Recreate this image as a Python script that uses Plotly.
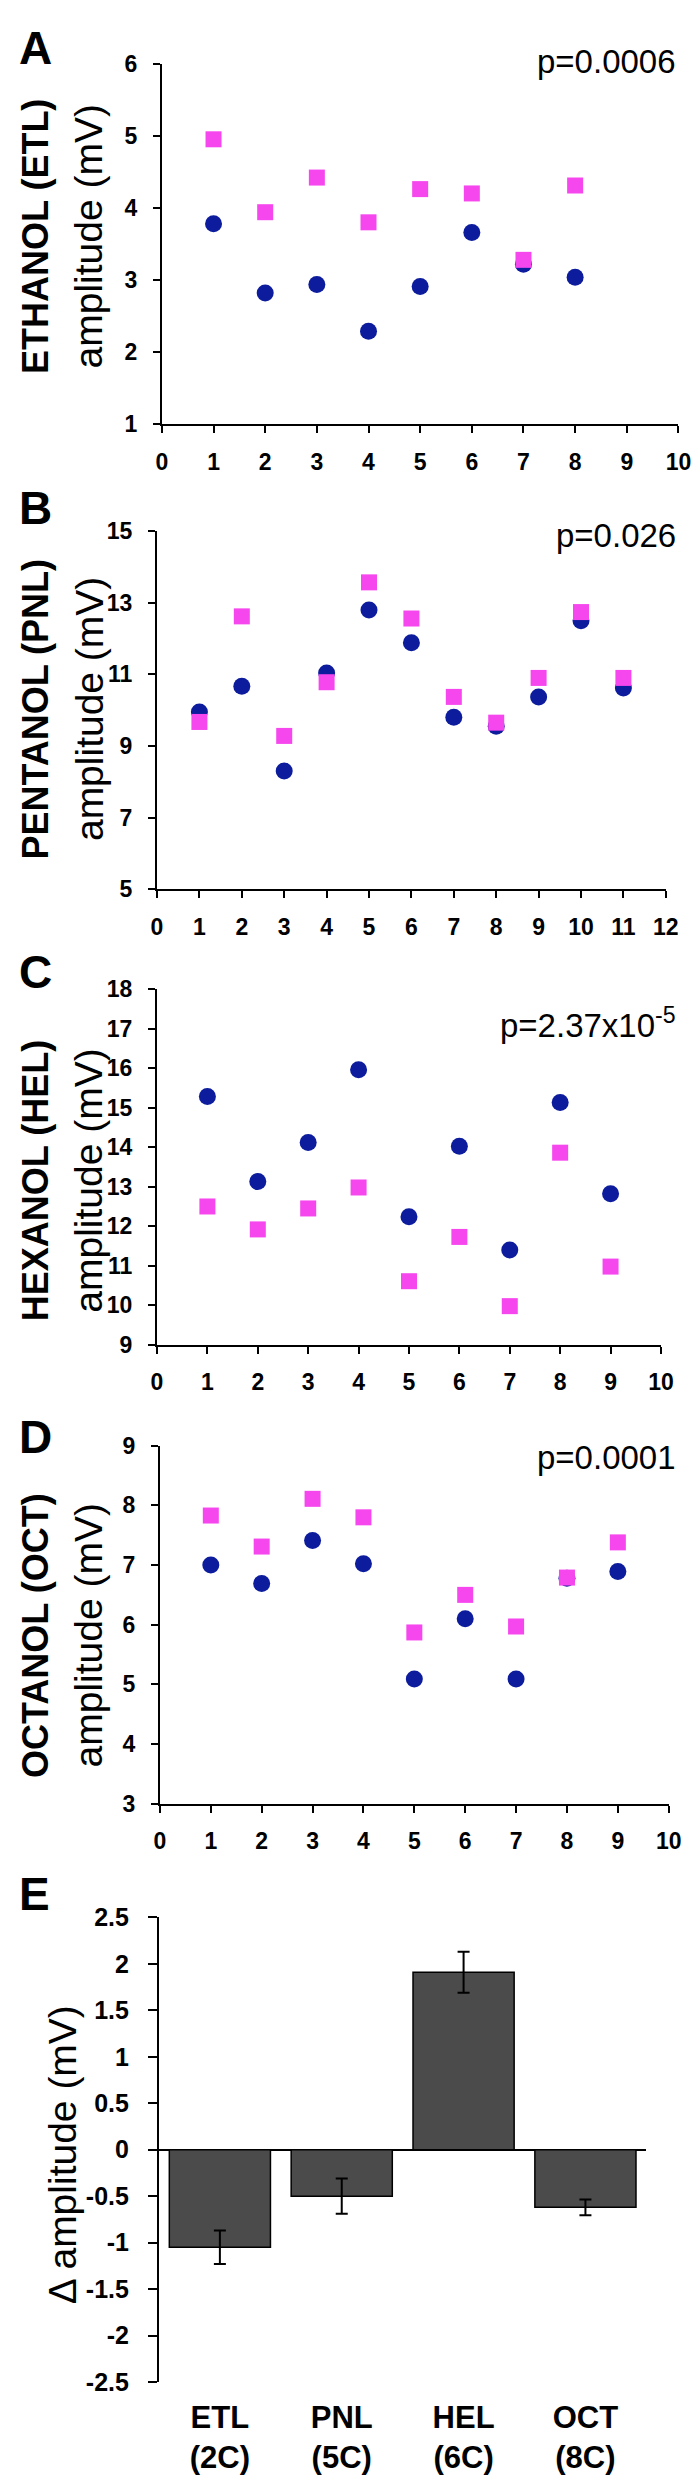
import plotly.graph_objects as go

W, H = 700, 2480

# ---------------- data ----------------
etl_x = [1, 2, 3, 4, 5, 6, 7, 8]
etl_before = [3.78, 2.82, 2.94, 2.29, 2.91, 3.66, 3.22, 3.04]
etl_after = [4.95, 3.94, 4.42, 3.80, 4.26, 4.20, 3.28, 4.31]

pnl_x = [1, 2, 3, 4, 5, 6, 7, 8, 9, 10, 11]
pnl_before = [9.95, 10.67, 8.30, 11.04, 12.80, 11.88, 9.80, 9.55, 10.37, 12.50, 10.62]
pnl_after = [9.67, 12.62, 9.28, 10.78, 13.57, 12.56, 10.37, 9.65, 10.90, 12.74, 10.90]

hel_x = [1, 2, 3, 4, 5, 6, 7, 8, 9]
hel_before = [15.28, 13.13, 14.12, 15.96, 12.24, 14.02, 11.40, 15.13, 12.82]
hel_after = [12.50, 11.92, 12.45, 12.98, 10.61, 11.73, 9.98, 13.86, 10.98]

oct_x = [1, 2, 3, 4, 5, 6, 7, 8, 9]
oct_before = [7.00, 6.69, 7.41, 7.02, 5.09, 6.10, 5.09, 6.78, 6.89]
oct_after = [7.83, 7.31, 8.11, 7.80, 5.87, 6.50, 5.97, 6.79, 7.38]

delta_cats = ["ETL<br>(2C)", "PNL<br>(5C)", "HEL<br>(6C)", "OCT<br>(8C)"]
delta_vals = [-1.05, -0.50, 1.91, -0.62]
delta_err = [0.18, 0.19, 0.22, 0.085]

panel_letters = ["A", "B", "C", "D", "E"]
odor_titles = ["ETHANOL (ETL)", "PENTANOL (PNL)", "HEXANOL (HEL)", "OCTANOL (OCT)"]
p_texts = ["p=0.0006", "p=0.026", "p=2.37x10<sup>-5</sup>", "p=0.0001"]

# ---------------- style ----------------
BLUE = "#0c1c9c"
PINK = "#f646ee"
FONT = "Liberation Sans, Arial, sans-serif"


def xp(px):
    return px / W


def yp(py):
    return 1 - py / H


fig = go.Figure()
layout = dict(width=W, height=H, margin=dict(l=0, r=0, t=0, b=0),
              paper_bgcolor="white", plot_bgcolor="white", showlegend=False,
              font=dict(family=FONT, color="black"))

scatter_panels = [
    dict(x=etl_x, b=etl_before, a=etl_after, xdom=(152, 683), ydom=(42, 407),
         xr=[0, 10], yr=[1, 6], ydt=1, letter_y=26, title_y=217, p_y=40),
    dict(x=pnl_x, b=pnl_before, a=pnl_after, xdom=(147, 670), ydom=(515, 877),
         xr=[0, 12], yr=[5, 15], ydt=2, letter_y=492, title_y=695, p_y=519),
    dict(x=hel_x, b=hel_before, a=hel_after, xdom=(147, 665), ydom=(978, 1338),
         xr=[0, 10], yr=[9, 18], ydt=1, letter_y=961, title_y=1172, p_y=1012),
    dict(x=oct_x, b=oct_before, a=oct_after, xdom=(150, 673), ydom=(1440, 1802),
         xr=[0, 10], yr=[3, 9], ydt=1, letter_y=1431, title_y=1632, p_y=1452),
]

axis_common = dict(showline=True, linecolor="black", linewidth=2, ticks="outside",
                   ticklen=7, tickwidth=2, tickcolor="black", showgrid=False,
                   zeroline=False,
                   tickfont=dict(family=FONT, size=23, color="black", weight="bold"))

annotations = []
for i, p in enumerate(scatter_panels):
    n = i + 1
    xa = "x" if n == 1 else f"x{n}"
    ya = "y" if n == 1 else f"y{n}"
    fig.add_trace(go.Scatter(x=p["x"], y=p["b"], mode="markers", xaxis=xa, yaxis=ya,
                             marker=dict(symbol="circle", size=17, color=BLUE),
                             cliponaxis=False))
    fig.add_trace(go.Scatter(x=p["x"], y=p["a"], mode="markers", xaxis=xa, yaxis=ya,
                             marker=dict(symbol="square", size=16, color=PINK),
                             cliponaxis=False))
    layout["xaxis" if n == 1 else f"xaxis{n}"] = dict(
        domain=[xp(p["xdom"][0]), xp(p["xdom"][1])], range=p["xr"], dtick=1,
        anchor=ya, ticklabelstandoff=9, **axis_common)
    layout["yaxis" if n == 1 else f"yaxis{n}"] = dict(
        domain=[yp(p["ydom"][1]), yp(p["ydom"][0])], range=p["yr"], dtick=p["ydt"],
        tick0=p["yr"][0], anchor=xa, ticklabelstandoff=11, **axis_common)
    annotations.append(dict(text=panel_letters[i], x=xp(3), y=yp(p["letter_y"]),
                            xref="paper", yref="paper", xanchor="left", yanchor="middle",
                            showarrow=False, font=dict(size=46, weight="bold")))
    annotations.append(dict(text=odor_titles[i], x=xp(22), y=yp(p["title_y"]),
                            xref="paper", yref="paper", xanchor="center", yanchor="middle",
                            textangle=-90, showarrow=False,
                            font=dict(size=36, weight="bold")))
    annotations.append(dict(text="amplitude (mV)", x=xp(77), y=yp(p["title_y"]),
                            xref="paper", yref="paper", xanchor="center", yanchor="middle",
                            textangle=-90, showarrow=False, font=dict(size=39)))
    annotations.append(dict(text=p_texts[i], x=xp(683), y=yp(p["p_y"]),
                            xref="paper", yref="paper", xanchor="right", yanchor="middle",
                            showarrow=False, font=dict(size=33)))

# ---------------- panel E ----------------
fig.add_trace(go.Bar(x=delta_cats, y=delta_vals, xaxis="x5", yaxis="y5",
                     marker=dict(color="#4b4b4b", line=dict(color="black", width=1.5)),
                     width=0.83,
                     error_y=dict(type="data", array=delta_err, visible=True,
                                  color="black", thickness=2, width=6)))

e_ticks = [2.5, 2, 1.5, 1, 0.5, 0, -0.5, -1, -1.5, -2, -2.5]
e_ticktext = ["2.5", "2", "1.5", "1", "0.5", "0", "-0.5", "-1", "-1.5", "-2", "-2.5"]

layout["xaxis5"] = dict(domain=[xp(149), xp(650)], range=[-0.5, 3.5], anchor="y5",
                        showline=False, ticks="", showgrid=False, zeroline=False,
                        ticklabelstandoff=14,
                        tickfont=dict(family=FONT, size=31, color="black", weight="bold"))
layout["yaxis5"] = dict(domain=[yp(2387), yp(1917)], range=[-2.5, 2.5], anchor="x5",
                        tickvals=e_ticks, ticktext=e_ticktext, showline=True,
                        linecolor="black", linewidth=2, ticks="outside", ticklen=9,
                        tickwidth=2, tickcolor="black", showgrid=False,
                        zeroline=True, zerolinecolor="black", zerolinewidth=2,
                        ticklabelstandoff=14,
                        tickfont=dict(family=FONT, size=25, color="black", weight="bold"))
annotations.append(dict(text=panel_letters[4], x=xp(3), y=yp(1893),
                        xref="paper", yref="paper", xanchor="left", yanchor="middle",
                        showarrow=False, font=dict(size=46, weight="bold")))
annotations.append(dict(text="Δ amplitude (mV)", x=xp(50), y=yp(2157),
                        xref="paper", yref="paper", xanchor="center", yanchor="middle",
                        textangle=-90, showarrow=False, font=dict(size=39)))

layout["annotations"] = annotations
fig.update_layout(**layout)
fig.write_html("out.html")
